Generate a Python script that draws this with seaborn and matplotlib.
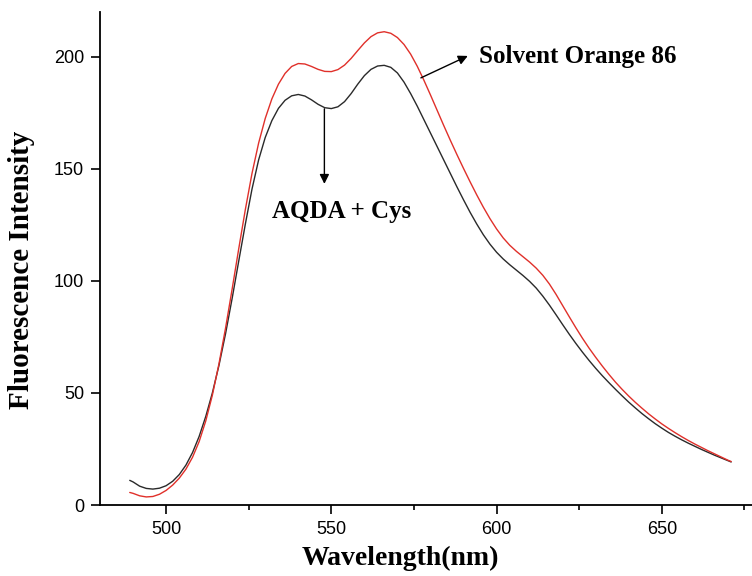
import matplotlib
matplotlib.use("Agg")
import matplotlib.pyplot as plt
import seaborn as sns
import pandas as pd
from matplotlib.ticker import MultipleLocator

# ---- data ----
wavelength = [489] + list(range(490, 672, 2)) + [671]

aqda_cys = [11.0, 10.3, 8.4, 7.4, 7.1, 7.5, 8.6, 10.6, 13.6, 17.8, 23.4,
            30.6, 39.5, 50.0, 62.3, 76.5, 92.3, 109.0, 125.5, 141.0, 154.0,
            164.0, 171.5, 177.0, 180.6, 182.6, 183.2, 182.5, 180.8, 178.8, 177.3,
            176.9, 177.7, 180.0, 183.6, 187.8, 191.6, 194.4, 195.9, 196.2, 195.3,
            192.8, 188.7, 183.6, 178.0, 172.0, 166.0, 160.0, 154.0, 148.0, 142.0,
            136.2, 130.6, 125.4, 120.6, 116.4, 112.8, 109.8, 107.2, 104.8, 102.4,
            99.8, 96.8, 93.2, 89.2, 84.9, 80.5, 76.2, 72.1, 68.2, 64.5,
            61.0, 57.7, 54.6, 51.6, 48.7, 45.9, 43.3, 40.8, 38.5, 36.3,
            34.3, 32.4, 30.7, 29.1, 27.6, 26.2, 24.8, 23.5, 22.2, 21.0,
            19.8, 19.2]

solvent_orange = [5.6, 5.2, 4.1, 3.6, 3.8, 4.8, 6.5, 8.9, 12.0, 16.0, 21.3,
                  28.3, 37.5, 49.0, 63.0, 79.0, 96.5, 114.5, 132.0, 148.0, 161.5,
                  172.5, 181.2, 187.8, 192.6, 195.7, 197.0, 196.8, 195.7, 194.4, 193.5,
                  193.4, 194.3, 196.3, 199.3, 202.8, 206.2, 209.0, 210.7, 211.2, 210.5,
                  208.6, 205.5, 201.2, 195.8, 189.6, 183.0, 176.2, 169.4, 162.8, 156.4,
                  150.2, 144.2, 138.4, 132.9, 127.8, 123.2, 119.2, 115.9, 113.2, 110.8,
                  108.4, 105.7, 102.5, 98.6, 94.0, 89.0, 84.0, 79.1, 74.4, 70.0,
                  65.9, 62.0, 58.3, 54.8, 51.6, 48.6, 45.8, 43.2, 40.7, 38.4,
                  36.2, 34.2, 32.3, 30.5, 28.8, 27.2, 25.7, 24.2, 22.8, 21.4,
                  20.0, 19.4]

series_names = ["AQDA + Cys", "Solvent Orange 86"]
x_ticks = [500, 550, 600, 650]
y_ticks = [0, 50, 100, 150, 200]

df = pd.DataFrame({
    "Wavelength": wavelength * 2,
    "Intensity": aqda_cys + solvent_orange,
    "Sample": [series_names[0]] * len(wavelength) + [series_names[1]] * len(wavelength),
})

# ---- style ----
sns.set_style("ticks")
plt.rcParams["font.family"] = ["Liberation Sans", "DejaVu Sans"]
plt.rcParams["text.color"] = "black"
plt.rcParams["axes.labelcolor"] = "black"

fig = plt.figure(figsize=(7.52, 5.76), dpi=100)
ax = fig.add_axes([100 / 752, 71 / 576, 652 / 752, 493 / 576])

sns.lineplot(data=df, x="Wavelength", y="Intensity", hue="Sample",
             palette={series_names[0]: "#2a2a2a", series_names[1]: "#e0302a"},
             linewidth=1.0, legend=False, ax=ax, sort=False)

ax.set_xlim(480, 677.3)
ax.set_ylim(0, 220)
ax.set_xticks(x_ticks)
ax.set_yticks(y_ticks)
ax.xaxis.set_minor_locator(MultipleLocator(25))

for s in ["top", "right"]:
    ax.spines[s].set_visible(False)
for s in ["left", "bottom"]:
    ax.spines[s].set_linewidth(1.3)
    ax.spines[s].set_color("black")

ax.tick_params(axis="both", which="major", direction="out", length=6.5, width=1.2,
               labelsize=13, pad=5, colors="black")
ax.tick_params(axis="x", which="minor", direction="out", length=3.5, width=1.2, colors="black")
ax.tick_params(axis="y", which="minor", left=False)

serif = ["Liberation Serif", "DejaVu Serif"]
ax.set_xlabel("Wavelength(nm)", family=serif, fontweight="bold", fontsize=20, color="black")
ax.set_ylabel("Fluorescence Intensity", family=serif, fontweight="bold", fontsize=21, color="black")
ax.xaxis.set_label_coords(0.46, -0.082)
ax.yaxis.set_label_coords(-0.100, 0.477)

# annotations
ax.annotate("", xy=(591.3, 200.4), xytext=(577.1, 190.6),
            arrowprops=dict(arrowstyle="-|>", color="black", lw=1.0,
                            mutation_scale=14, shrinkA=0, shrinkB=0))
ax.text(594.6, 197.3, series_names[1], family=serif, fontweight="bold",
        fontsize=18, ha="left", va="baseline", color="black")

ax.annotate("", xy=(547.9, 143.3), xytext=(547.9, 176.8),
            arrowprops=dict(arrowstyle="-|>", color="black", lw=1.0,
                            mutation_scale=14, shrinkA=0, shrinkB=0))
ax.text(553.2, 128.1, series_names[0], family=serif, fontweight="bold",
        fontsize=18, ha="center", va="baseline", color="black")

fig.savefig("out.png", dpi=100, facecolor="white")
